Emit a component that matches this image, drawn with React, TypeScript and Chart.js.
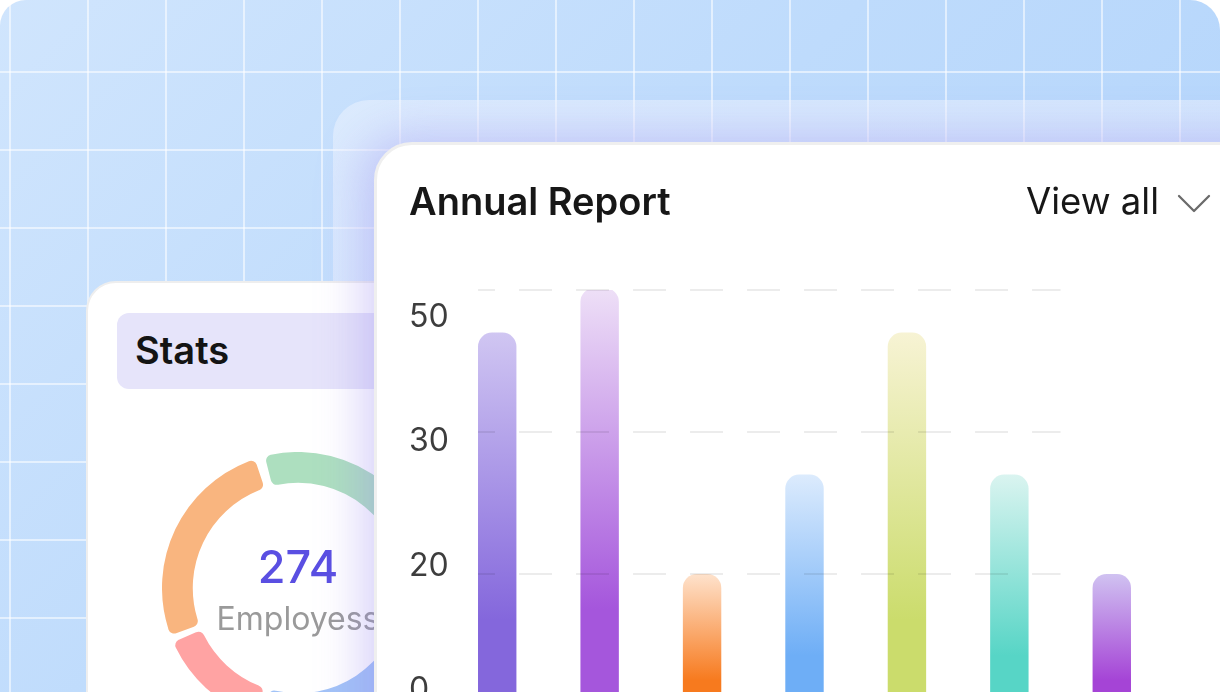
import React, { useEffect, useRef } from 'react';
import { Chart, registerables } from 'chart.js';

Chart.register(...registerables);

// ---- Bar chart data ----
const CATEGORIES = ['Jan', 'Feb', 'Mar', 'Apr', 'May', 'Jun', 'Jul'];
const VALUES = [54, 60.3, 20, 34, 54, 34, 20];
const GRID_VALUES = [0, 20, 40, 60];
const Y_LABELS = ['0', '20', '30', '50'];
const BAR_TOP_COLORS = ['#d0c6f2', '#eee0f7', '#fee2cc', '#dcebfd', '#f7f3d4', '#daf4f0', '#d0c2f1'];
const BAR_BOTTOM_COLORS = ['#8467dc', '#a556dc', '#f77a1e', '#6eaef6', '#cbdc6c', '#57d5c6', '#a544d6'];

// ---- Donut data ----
const DONUT_LABELS = ['Group A', 'Group B', 'Group C', 'Group D'];
const DONUT_VALUES = [85, 78, 38, 73];
const DONUT_COLORS = ['#addfbf', '#a2c3f7', '#ffa3a3', '#f9b57f'];
const TOTAL_LABEL = '274';
const TOTAL_CAPTION = 'Employess';

const FONT = 'Inter, "Noto Sans", sans-serif';

function BarChart() {
  const ref = useRef<HTMLCanvasElement | null>(null);
  useEffect(() => {
    if (!ref.current) return;
    const gridPlugin = {
      id: 'dashGrid',
      afterDatasetsDraw(chart: any) {
        const { ctx, scales } = chart;
        const x = scales.x;
        const y = scales.y;
        const step = x.getPixelForValue(1) - x.getPixelForValue(0);
        const barW = step * 0.375;
        const x0 = x.getPixelForValue(0) - barW / 2;
        const x1 = (x.getPixelForValue(5) + x.getPixelForValue(6)) / 2;
        ctx.save();
        ctx.strokeStyle = 'rgba(0,0,0,0.075)';
        ctx.lineWidth = 2;
        ctx.setLineDash([33, 24]);
        ctx.lineDashOffset = 16;
        GRID_VALUES.forEach((v) => {
          const py = Math.round(y.getPixelForValue(v));
          ctx.beginPath();
          ctx.moveTo(x0, py);
          ctx.lineTo(x1, py);
          ctx.stroke();
        });
        ctx.restore();
      },
    };
    const labelPlugin = {
      id: 'yLabels',
      afterDraw(chart: any) {
        const { ctx, chartArea } = chart;
        const yl = chart.scales.yl;
        ctx.save();
        ctx.font = `400 32px ${FONT}`;
        ctx.fillStyle = '#3d3d3d';
        ctx.textAlign = 'left';
        ctx.textBaseline = 'alphabetic';
        Y_LABELS.forEach((t, i) => {
          ctx.fillText(t, chartArea.left - 37, yl.getPixelForValue(i) + 12);
        });
        ctx.restore();
      },
    };
    const chart = new Chart(ref.current, {
      type: 'bar',
      data: {
        labels: CATEGORIES,
        datasets: [
          {
            data: VALUES,
            backgroundColor: (c: any) => {
              const i = c.dataIndex;
              const ch = c.chart;
              const ys = ch.scales && ch.scales.y;
              if (!ys || !ch.chartArea || i === undefined) return BAR_BOTTOM_COLORS[i || 0];
              const top = ys.getPixelForValue(VALUES[i]);
              const bottom = ys.getPixelForValue(0);
              const g = ch.ctx.createLinearGradient(0, top, 0, bottom);
              g.addColorStop(0, BAR_TOP_COLORS[i]);
              g.addColorStop(0.75, BAR_BOTTOM_COLORS[i]);
              g.addColorStop(1, BAR_BOTTOM_COLORS[i]);
              return g;
            },
            borderWidth: 0,
            borderRadius: 14,
            borderSkipped: 'start',
            categoryPercentage: 1,
            barPercentage: 0.375,
          } as any,
        ],
      },
      options: {
        animation: false,
        responsive: false,
        events: [],
        layout: { padding: { left: 66, right: 57, top: 30, bottom: 24 } },
        plugins: { legend: { display: false }, tooltip: { enabled: false } },
        scales: {
          x: { display: false },
          y: { display: false, min: 0, max: 60, ticks: { stepSize: 20 } },
          yl: { display: false, min: -0.225, max: 3.2, axis: 'y' } as any,
        },
      },
      plugins: [gridPlugin, labelPlugin],
    });
    return () => chart.destroy();
  }, []);
  return (
    <canvas
      ref={ref}
      width={840}
      height={480}
      style={{ position: 'absolute', left: 380, top: 260, width: 840, height: 480 }}
    />
  );
}

function DonutChart() {
  const ref = useRef<HTMLCanvasElement | null>(null);
  useEffect(() => {
    if (!ref.current) return;
    const chart = new Chart(ref.current, {
      type: 'doughnut',
      data: {
        labels: DONUT_LABELS,
        datasets: [
          {
            data: DONUT_VALUES,
            backgroundColor: DONUT_COLORS,
            borderWidth: 0,
            borderRadius: 6,
            spacing: 10,
            hoverOffset: 0,
            offset: 0,
          } as any,
        ],
      },
      options: {
        animation: false,
        responsive: false,
        events: [],
        rotation: -16.5,
        cutout: '76.5%',
        plugins: { legend: { display: false }, tooltip: { enabled: false } },
      } as any,
    });
    return () => chart.destroy();
  }, []);
  return (
    <canvas
      ref={ref}
      width={272}
      height={272}
      style={{ position: 'absolute', left: 162, top: 452, width: 272, height: 272 }}
    />
  );
}

export default function App() {
  const abs: React.CSSProperties = { position: 'absolute' };
  return (
    <div
      style={{
        position: 'fixed',
        left: 0,
        top: 0,
        width: 1220,
        height: 692,
        overflow: 'hidden',
        background: '#ffffff',
        fontFamily: FONT,
      }}
    >
      {/* background with grid */}
      <div
        style={{
          ...abs,
          left: 0,
          top: 0,
          width: 1220,
          height: 692,
          borderRadius: '26px 30px 0 0',
          backgroundImage:
            'linear-gradient(90deg, rgba(255,255,255,0.55) 2px, transparent 2px), linear-gradient(180deg, rgba(255,255,255,0.55) 2px, transparent 2px), linear-gradient(135deg, #d0e5fd 0%, #bedbfc 45%, #afd2fb 100%)',
          backgroundSize: '78px 78px, 78px 78px, 100% 100%',
          backgroundPosition: '9px 0, 0 71px, 0 0',
        }}
      />
      {/* back translucent card */}
      <div
        style={{
          ...abs,
          left: 333,
          top: 100,
          width: 1000,
          height: 700,
          borderRadius: 36,
          background: 'linear-gradient(180deg, rgba(245,248,255,0.45) 0%, rgba(235,238,255,0.4) 100%)',
        }}
      />
      {/* stats card */}
      <div
        style={{
          ...abs,
          left: 86,
          top: 281,
          width: 400,
          height: 500,
          borderRadius: 30,
          background: '#ffffff',
          border: '2px solid #eeeeee',
          boxSizing: 'border-box',
        }}
      />
      <div
        style={{
          ...abs,
          left: 117,
          top: 313,
          width: 320,
          height: 76,
          borderRadius: 12,
          background: '#e6e4fa',
        }}
      />
      <div
        style={{
          ...abs,
          left: 135,
          top: 331,
          fontSize: 38,
          lineHeight: 1,
          fontWeight: 600,
          color: '#141414',
          whiteSpace: 'nowrap',
        }}
      >
        Stats
      </div>
      <DonutChart />
      <div
        style={{
          ...abs,
          left: 198,
          width: 200,
          top: 544,
          textAlign: 'center',
          fontSize: 45,
          lineHeight: 1,
          fontWeight: 500,
          color: '#5a4fe2',
        }}
      >
        {TOTAL_LABEL}
      </div>
      <div
        style={{
          ...abs,
          left: 198,
          width: 200,
          top: 603,
          textAlign: 'center',
          fontSize: 32,
          lineHeight: 1,
          fontWeight: 400,
          color: '#9a9a9a',
        }}
      >
        {TOTAL_CAPTION}
      </div>
      {/* main card */}
      <div
        style={{
          ...abs,
          left: 374,
          top: 142,
          width: 1000,
          height: 700,
          borderRadius: 38,
          background: '#ffffff',
          border: '3px solid #efefef',
          boxSizing: 'border-box',
          boxShadow: '-6px 0 45px 6px rgba(150,135,240,0.38)',
        }}
      />
      <div
        style={{
          ...abs,
          left: 409,
          top: 182,
          fontSize: 38,
          lineHeight: 1,
          fontWeight: 600,
          color: '#171717',
          whiteSpace: 'nowrap',
        }}
      >
        Annual Report
      </div>
      <div
        style={{
          ...abs,
          right: 1220 - 1159,
          top: 183,
          fontSize: 36.5,
          lineHeight: 1,
          fontWeight: 400,
          color: '#171717',
          whiteSpace: 'nowrap',
        }}
      >
        View all
      </div>
      <svg style={{ ...abs, left: 0, top: 0 }} width={1220} height={692} pointerEvents="none">
        <polyline
          points="1179,196 1194,211 1209,196"
          fill="none"
          stroke="#6b6b6b"
          strokeWidth={2.3}
          strokeLinecap="round"
          strokeLinejoin="round"
        />
      </svg>
      <BarChart />
    </div>
  );
}
